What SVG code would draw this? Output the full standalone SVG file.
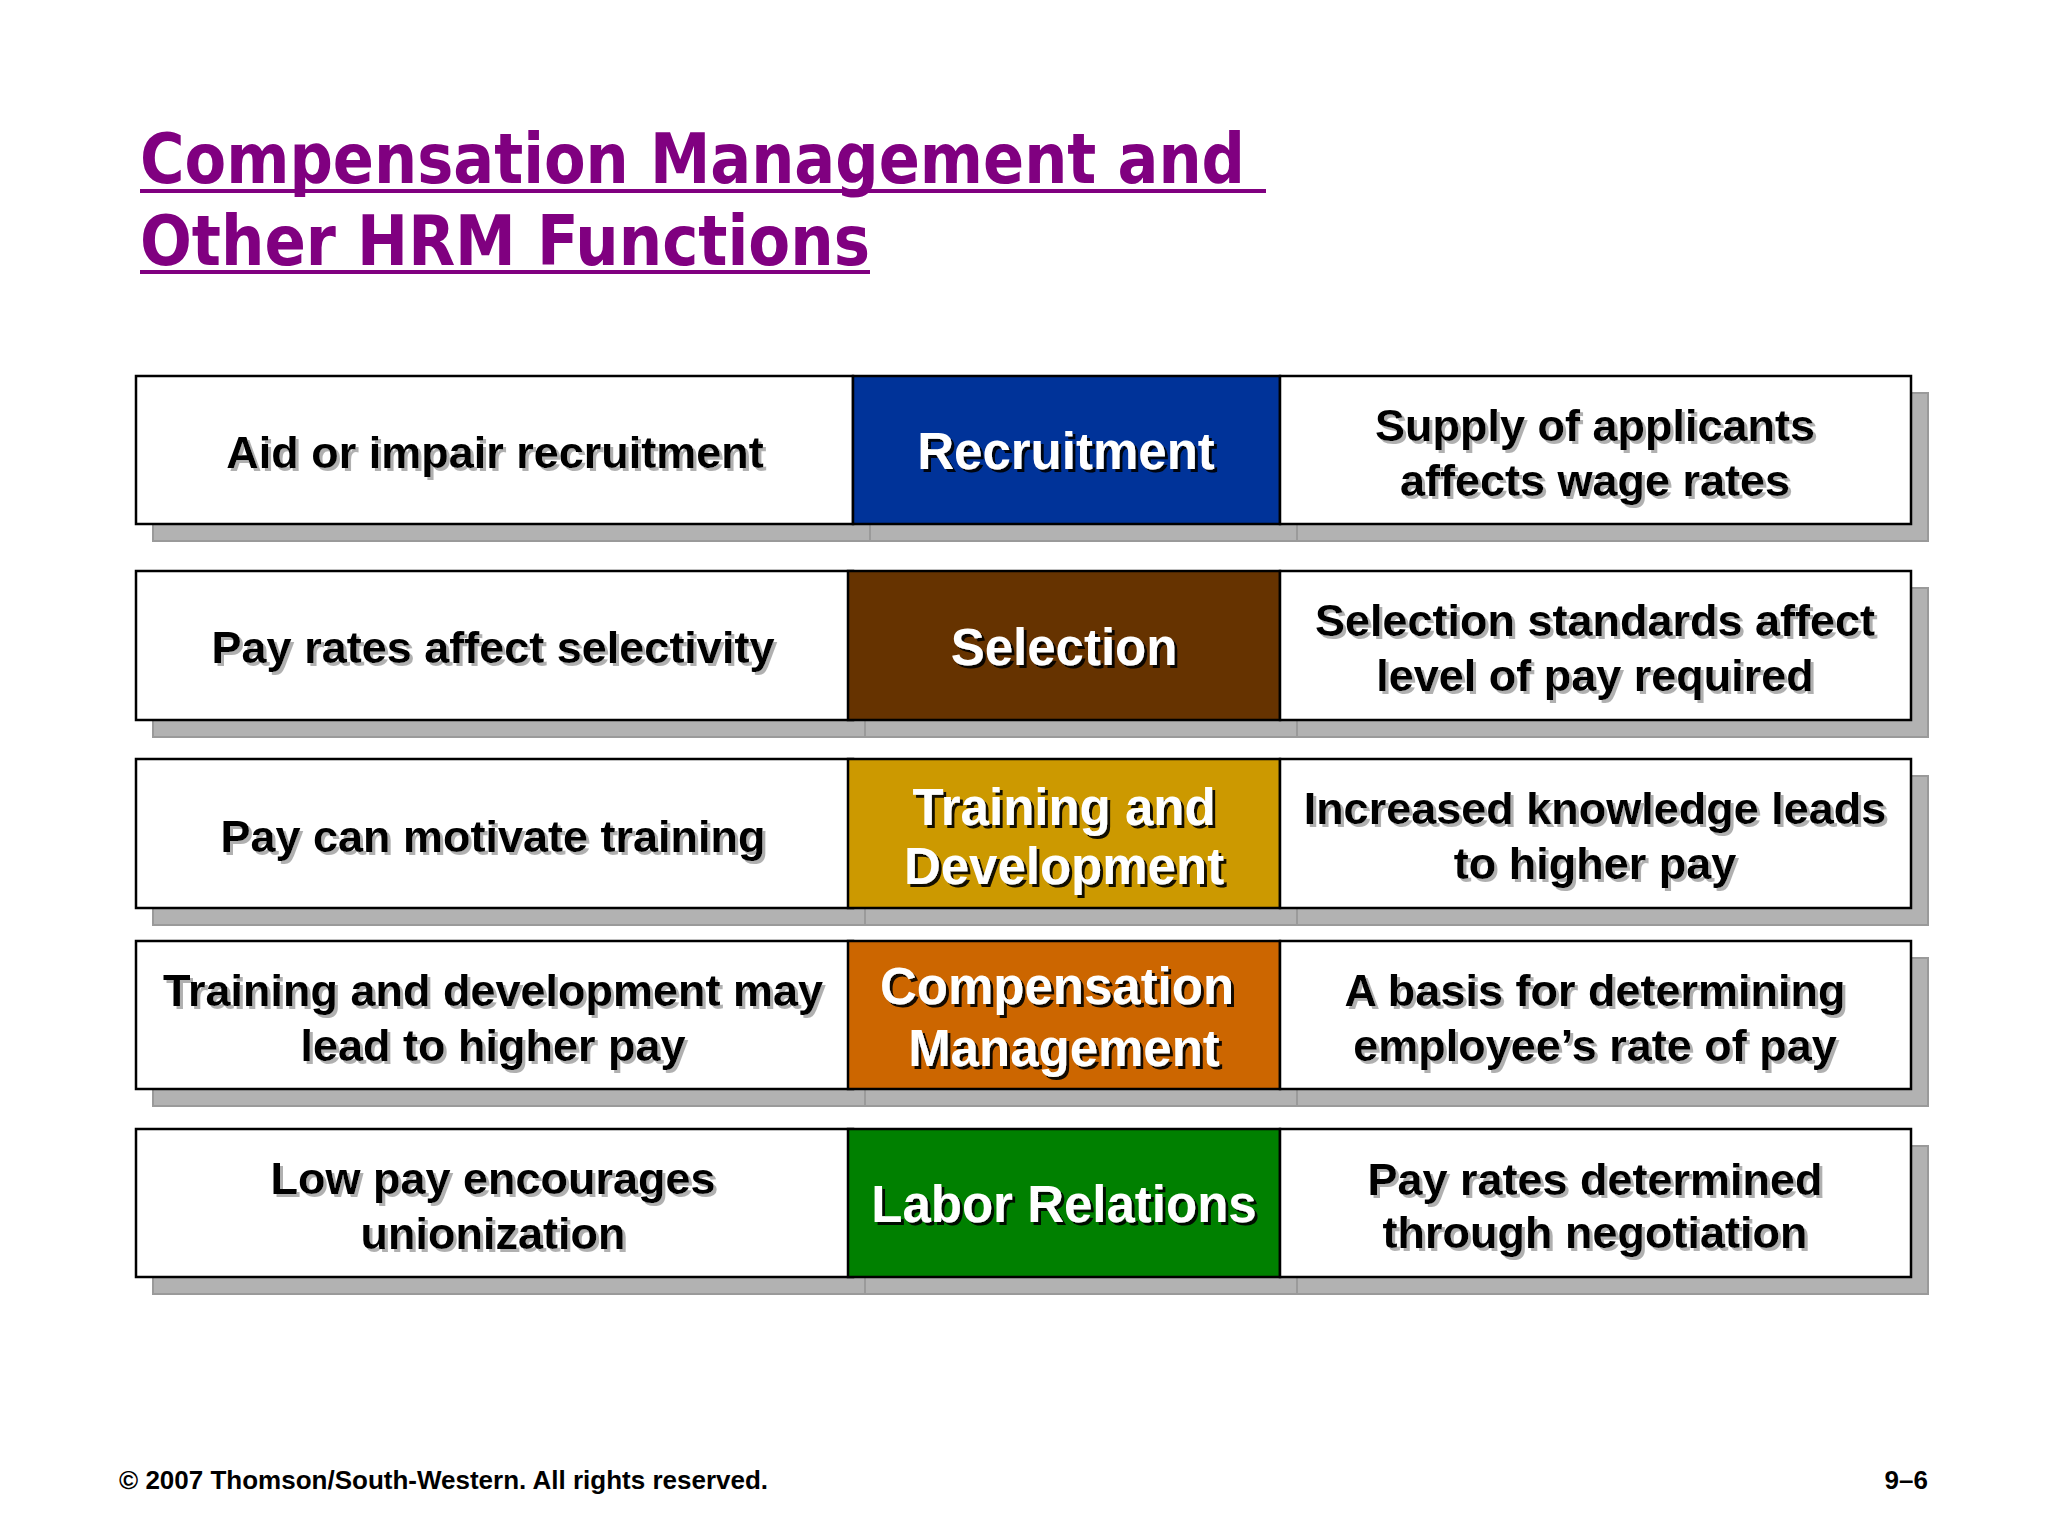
<svg xmlns="http://www.w3.org/2000/svg" width="2048" height="1536" viewBox="0 0 2048 1536">
<defs>
<style>
.title{font-family:"DejaVu Sans Condensed","DejaVu Sans",sans-serif;font-weight:bold;font-size:70px;fill:#800080}
.ul{stroke:#800080;stroke-width:4}
.sh{fill:#b2b2b2;stroke:#9a9a9a;stroke-width:2}
.box{stroke:#000;stroke-width:2.5}
.w{fill:#fff}
.t{font-family:"Liberation Sans",Arial,sans-serif;font-weight:bold;font-size:45px;fill:#000;text-anchor:middle;filter:url(#tsg)}
.c{font-family:"Liberation Sans",Arial,sans-serif;font-weight:bold;font-size:51px;fill:#fff;text-anchor:middle;filter:url(#tsb)}
.foot{font-family:"Liberation Sans",Arial,sans-serif;font-weight:bold;font-size:26px;fill:#000}
</style>
<filter id="tsg" x="-5%" y="-30%" width="110%" height="160%">
<feDropShadow dx="3" dy="3" stdDeviation="0.6" flood-color="#b0b0b0" flood-opacity="1"/>
</filter>
<filter id="tsb" x="-5%" y="-30%" width="110%" height="160%">
<feDropShadow dx="3" dy="3" stdDeviation="0.5" flood-color="#000" flood-opacity="0.9"/>
</filter>
</defs>
<rect width="2048" height="1536" fill="#fff"/>

<g id="title">
<text class="title" x="140" y="183" textLength="1105" lengthAdjust="spacingAndGlyphs">Compensation Management and</text>
<line class="ul" x1="140" y1="191" x2="1266" y2="191"/>
<text class="title" x="140" y="265" textLength="730" lengthAdjust="spacingAndGlyphs">Other HRM Functions</text>
<line class="ul" x1="140" y1="272" x2="870" y2="272"/>
</g>

<g id="row1">
<rect class="sh" x="153" y="393" width="717" height="148"/>
<rect class="sh" x="870" y="393" width="427" height="148"/>
<rect class="sh" x="1297" y="393" width="631" height="148"/>
<g id="r1-left"><rect class="box w" x="136" y="376" width="717" height="148"/>
<text class="t" x="495" y="468">Aid or impair recruitment</text></g>
<g id="r1-center"><rect class="box" fill="#003399" x="853" y="376" width="427" height="148"/>
<text class="c" x="1066" y="469">Recruitment</text></g>
<g id="r1-right"><rect class="box w" x="1280" y="376" width="631" height="148"/>
<text class="t" x="1595" y="441">Supply of applicants</text>
<text class="t" x="1595" y="496">affects wage rates</text></g>
</g>

<g id="row2">
<rect class="sh" x="153" y="588" width="717" height="149"/>
<rect class="sh" x="865" y="588" width="432" height="149"/>
<rect class="sh" x="1297" y="588" width="631" height="149"/>
<g id="r2-left"><rect class="box w" x="136" y="571" width="717" height="149"/>
<text class="t" x="493" y="663">Pay rates affect selectivity</text></g>
<g id="r2-center"><rect class="box" fill="#663300" x="848" y="571" width="432" height="149"/>
<text class="c" x="1064" y="665">Selection</text></g>
<g id="r2-right"><rect class="box w" x="1280" y="571" width="631" height="149"/>
<text class="t" x="1595" y="636">Selection standards affect</text>
<text class="t" x="1595" y="691">level of pay required</text></g>
</g>

<g id="row3">
<rect class="sh" x="153" y="776" width="717" height="149"/>
<rect class="sh" x="865" y="776" width="432" height="149"/>
<rect class="sh" x="1297" y="776" width="631" height="149"/>
<g id="r3-left"><rect class="box w" x="136" y="759" width="717" height="149"/>
<text class="t" x="493" y="852">Pay can motivate training</text></g>
<g id="r3-center"><rect class="box" fill="#CC9900" x="848" y="759" width="432" height="149"/>
<text class="c" x="1064" y="825">Training and</text>
<text class="c" x="1064" y="884">Development</text></g>
<g id="r3-right"><rect class="box w" x="1280" y="759" width="631" height="149"/>
<text class="t" x="1595" y="824">Increased knowledge leads</text>
<text class="t" x="1595" y="879">to higher pay</text></g>
</g>

<g id="row4">
<rect class="sh" x="153" y="958" width="717" height="148"/>
<rect class="sh" x="865" y="958" width="432" height="148"/>
<rect class="sh" x="1297" y="958" width="631" height="148"/>
<g id="r4-left"><rect class="box w" x="136" y="941" width="717" height="148"/>
<text class="t" x="493" y="1006">Training and development may</text>
<text class="t" x="493" y="1061">lead to higher pay</text></g>
<g id="r4-center"><rect class="box" fill="#CC6600" x="848" y="941" width="432" height="148"/>
<text class="c" x="1057" y="1004">Compensation</text>
<text class="c" x="1064" y="1066">Management</text></g>
<g id="r4-right"><rect class="box w" x="1280" y="941" width="631" height="148"/>
<text class="t" x="1595" y="1006">A basis for determining</text>
<text class="t" x="1595" y="1061">employee’s rate of pay</text></g>
</g>

<g id="row5">
<rect class="sh" x="153" y="1146" width="717" height="148"/>
<rect class="sh" x="865" y="1146" width="432" height="148"/>
<rect class="sh" x="1297" y="1146" width="631" height="148"/>
<g id="r5-left"><rect class="box w" x="136" y="1129" width="717" height="148"/>
<text class="t" x="493" y="1194">Low pay encourages</text>
<text class="t" x="493" y="1249">unionization</text></g>
<g id="r5-center"><rect class="box" fill="#008000" x="848" y="1129" width="432" height="148"/>
<text class="c" x="1064" y="1222">Labor Relations</text></g>
<g id="r5-right"><rect class="box w" x="1280" y="1129" width="631" height="148"/>
<text class="t" x="1595" y="1195">Pay rates determined</text>
<text class="t" x="1595" y="1248">through negotiation</text></g>
</g>

<g id="connectors"></g>

<g id="footer">
<text class="foot" x="119" y="1489">© 2007 Thomson/South-Western. All rights reserved.</text>
<text class="foot" x="1928" y="1489" text-anchor="end">9–6</text>
</g>
</svg>
